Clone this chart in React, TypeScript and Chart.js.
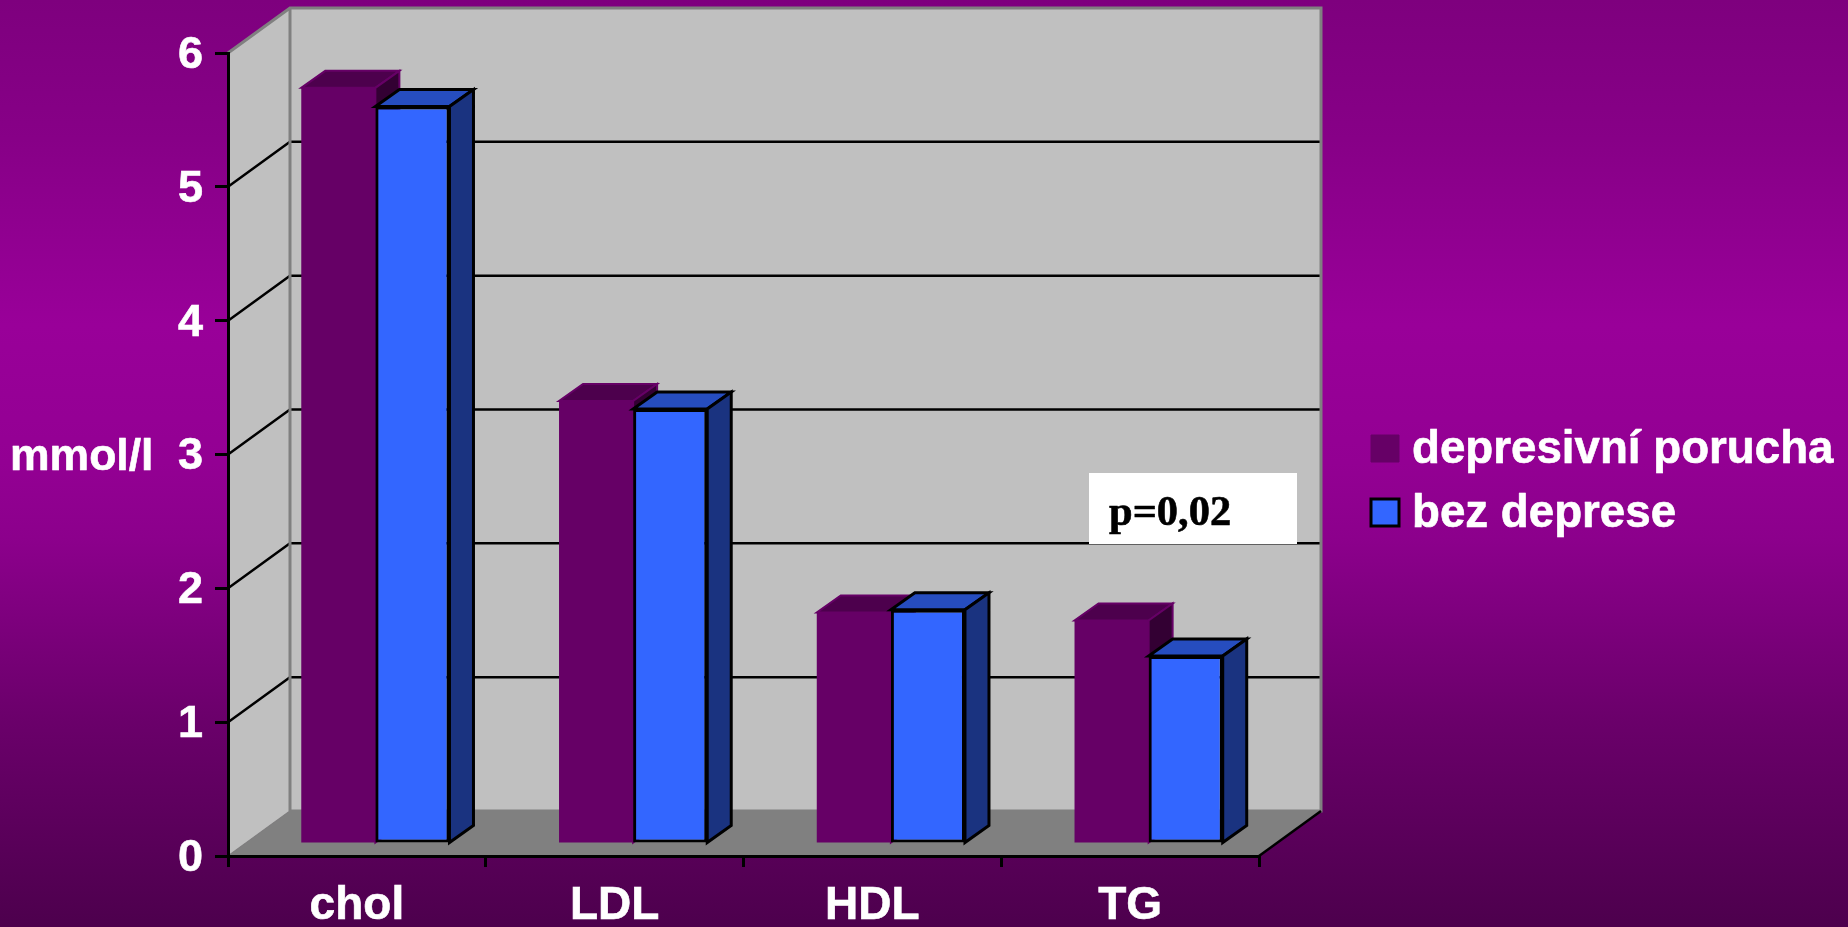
import { useEffect, useRef } from "react";
import { Chart, registerables } from "chart.js";

Chart.register(...registerables);

const categories = ["chol", "LDL", "HDL", "TG"];
const depressiveDisorder = [5.65, 3.31, 1.73, 1.67];
const withoutDepression = [5.51, 3.25, 1.75, 1.405];
const yTicks = [0, 1, 2, 3, 4, 5, 6];
const seriesNames = ["depresivní porucha", "bez deprese"];
const axisUnit = "mmol/l";
const noteText = "p=0,02";

const SANS = '"Liberation Sans", Arial, sans-serif';
const WALL_DEPTH = { x: 62, y: -45 };
const BAR_SHIFT = { x: 18.5, y: -12 };
const BAR_DEPTH = { x: 24, y: -17 };
const VALUE_LABEL_NUDGE = 2.5;
const TEXT_WEIGHT = 0.6;

type Faces = { front: string; top: string; side: string; edge: string; edgeWidth: number };
const purpleFaces: Faces = { front: "#660066", top: "#4d004d", side: "#330033", edge: "#660066", edgeWidth: 2 };
const blueFaces: Faces = { front: "#3366ff", top: "#264dbf", side: "#1a3380", edge: "#000000", edgeWidth: 3 };
const faces = [purpleFaces, blueFaces];

function poly(ctx: CanvasRenderingContext2D, pts: number[][], fill: string | null, stroke?: string, width = 1) {
  ctx.beginPath();
  pts.forEach(([x, y], i) => (i ? ctx.lineTo(x, y) : ctx.moveTo(x, y)));
  ctx.closePath();
  if (fill) {
    ctx.fillStyle = fill;
    ctx.fill();
  }
  if (stroke) {
    ctx.strokeStyle = stroke;
    ctx.lineWidth = width;
    ctx.lineJoin = "miter";
    ctx.stroke();
  }
}

function heavyText(ctx: CanvasRenderingContext2D, text: string, x: number, y: number) {
  ctx.strokeStyle = ctx.fillStyle as string;
  ctx.lineWidth = TEXT_WEIGHT;
  ctx.lineJoin = "round";
  ctx.strokeText(text, x, y);
  ctx.fillText(text, x, y);
}

const stagePlugin = {
  id: "stage",
  // Value labels sit slightly below their tick marks.
  afterUpdate(chart: any) {
    chart.scales.y.getLabelItems(chart.chartArea).forEach((item: any) => {
      item.options.translation[1] += VALUE_LABEL_NUDGE;
    });
  },
  // Slide background, box walls, floor and the gridlines running around them.
  beforeDraw(chart: any) {
    const { ctx, width, height, chartArea, scales } = chart;
    const { left, right, top, bottom } = chartArea;
    const dx = WALL_DEPTH.x;
    const dy = WALL_DEPTH.y;

    const bg = ctx.createLinearGradient(0, 0, 0, height);
    bg.addColorStop(0, "#7e007e");
    bg.addColorStop(0.15, "#870087");
    bg.addColorStop(0.35, "#990099");
    bg.addColorStop(0.5, "#930093");
    bg.addColorStop(0.58, "#8c008c");
    bg.addColorStop(0.78, "#6a006a");
    bg.addColorStop(1, "#4d004d");
    ctx.fillStyle = bg;
    ctx.fillRect(0, 0, width, height);

    poly(ctx, [[left, top], [left + dx, top + dy], [left + dx, bottom + dy], [left, bottom]], "#c0c0c0");
    poly(ctx, [[left, bottom], [left + dx, bottom + dy], [right + dx, bottom + dy], [right, bottom]], "#808080");
    poly(ctx, [[left + dx, top + dy], [right + dx, top + dy], [right + dx, bottom + dy], [left + dx, bottom + dy]], "#c0c0c0");

    ctx.strokeStyle = "#000000";
    ctx.lineWidth = 2.5;
    ctx.beginPath();
    yTicks.slice(1, -1).forEach((v) => {
      const y = scales.y.getPixelForValue(v);
      ctx.moveTo(left, y);
      ctx.lineTo(left + dx, y + dy);
      ctx.lineTo(right + dx, y + dy);
    });
    ctx.stroke();

    ctx.strokeStyle = "#808080";
    ctx.lineWidth = 3;
    ctx.beginPath();
    ctx.moveTo(left, top);
    ctx.lineTo(left + dx, top + dy);
    ctx.lineTo(right + dx, top + dy);
    ctx.lineTo(right + dx, bottom + dy);
    ctx.lineTo(left + dx, bottom + dy);
    ctx.moveTo(left + dx, top + dy);
    ctx.lineTo(left + dx, bottom + dy);
    ctx.stroke();

    ctx.lineWidth = 1.5;
    ctx.beginPath();
    ctx.moveTo(left, bottom);
    ctx.lineTo(left + dx, bottom + dy);
    ctx.stroke();

    ctx.strokeStyle = "#000000";
    ctx.lineWidth = 2.5;
    ctx.beginPath();
    ctx.moveTo(right, bottom);
    ctx.lineTo(right + dx, bottom + dy);
    ctx.stroke();
  },
  // The bars stand on a plane in front of the axes, and the right-hand series overlaps the
  // left one, so the series are painted left to right with their tops and sides.
  beforeDatasetsDraw(chart: any) {
    const { ctx } = chart;
    ctx.save();
    ctx.translate(BAR_SHIFT.x, BAR_SHIFT.y);
    chart.getSortedVisibleDatasetMetas().forEach((meta: any) => {
      const style = faces[meta.index];
      const dx = BAR_DEPTH.x;
      const dy = BAR_DEPTH.y;
      meta.data.forEach((bar: any) => {
        const { x, y, base, width } = bar.getProps(["x", "y", "base", "width"], true);
        const x0 = x - width / 2;
        const x1 = x + width / 2;
        poly(ctx, [[x0, y], [x1, y], [x1 + dx, y + dy], [x0 + dx, y + dy]], style.top, style.edge, style.edgeWidth);
        poly(ctx, [[x1, y], [x1 + dx, y + dy], [x1 + dx, base + dy], [x1, base]], style.side, style.edge, style.edgeWidth);
      });
      meta.controller.draw();
    });
    ctx.restore();
    return false;
  },
  afterDraw(chart: any) {
    const { ctx } = chart;

    // Axis unit, beside the value labels
    ctx.font = `bold 44.5px ${SANS}`;
    ctx.fillStyle = "#ffffff";
    ctx.textAlign = "left";
    ctx.textBaseline = "alphabetic";
    heavyText(ctx, axisUnit, 10, chart.scales.y.getPixelForValue(3) + 15);

    // Significance note
    ctx.fillStyle = "#ffffff";
    ctx.fillRect(1089, 473, 208, 71);
    ctx.fillStyle = "#000000";
    ctx.font = 'bold 42.5px "Liberation Serif", "Times New Roman", serif';
    heavyText(ctx, noteText, 1109, 525);

    // Legend
    chart.data.datasets.forEach((ds: any, i: number) => {
      const y = 435 + i * 64;
      const style = faces[i];
      poly(ctx, [[1371, y], [1399, y], [1399, y + 27], [1371, y + 27]], style.front, style.edge, i ? 3 : 1);
      ctx.fillStyle = "#ffffff";
      ctx.font = `bold 45.7px ${SANS}`;
      heavyText(ctx, ds.label, 1412, y + 28);
    });
  },
};

export default function App() {
  const ref = useRef<HTMLCanvasElement>(null);

  useEffect(() => {
    const chart = new Chart(ref.current as HTMLCanvasElement, {
      type: "bar",
      plugins: [stagePlugin],
      data: {
        labels: categories,
        datasets: [
          {
            label: seriesNames[0],
            data: depressiveDisorder,
            backgroundColor: purpleFaces.front,
            borderColor: purpleFaces.edge,
            borderWidth: 0,
          },
          {
            label: seriesNames[1],
            data: withoutDepression,
            backgroundColor: blueFaces.front,
            borderColor: blueFaces.edge,
            borderWidth: 3,
            borderSkipped: false,
          },
        ] as any,
      },
      options: {
        responsive: false,
        animation: false,
        devicePixelRatio: 1,
        layout: { padding: { left: 0, top: 53, right: 589, bottom: 0 } },
        datasets: { bar: { categoryPercentage: 0.575, barPercentage: 1 } },
        plugins: { legend: { display: false }, tooltip: { enabled: false } },
        scales: {
          x: {
            afterFit: (s: any) => {
              s.height = 71;
            },
            grid: { drawOnChartArea: false, drawTicks: true, tickLength: 11, color: "#000000", lineWidth: 3 },
            border: { color: "#000000", width: 3 },
            ticks: {
              color: "#ffffff",
              font: { family: SANS, size: 46, weight: "bold" },
              padding: 12,
              maxRotation: 0,
              textStrokeColor: "#ffffff",
              textStrokeWidth: TEXT_WEIGHT,
            },
          },
          y: {
            min: 0,
            max: 6,
            afterFit: (s: any) => {
              s.width = 228;
            },
            grid: { drawOnChartArea: false, drawTicks: true, tickLength: 13, color: "#000000", lineWidth: 3 },
            border: { color: "#000000", width: 3 },
            ticks: {
              color: "#ffffff",
              font: { family: SANS, size: 45, weight: "bold" },
              padding: 12,
              stepSize: 1,
              textStrokeColor: "#ffffff",
              textStrokeWidth: TEXT_WEIGHT,
              callback: (v: any) => (yTicks.includes(v) ? String(v) : ""),
            },
          },
        },
      } as any,
    });
    return () => chart.destroy();
  }, []);

  return (
    <div style={{ position: "fixed", left: 0, top: 0, width: 1848, height: 927 }}>
      <canvas ref={ref} width={1848} height={927} style={{ display: "block" }} />
    </div>
  );
}
